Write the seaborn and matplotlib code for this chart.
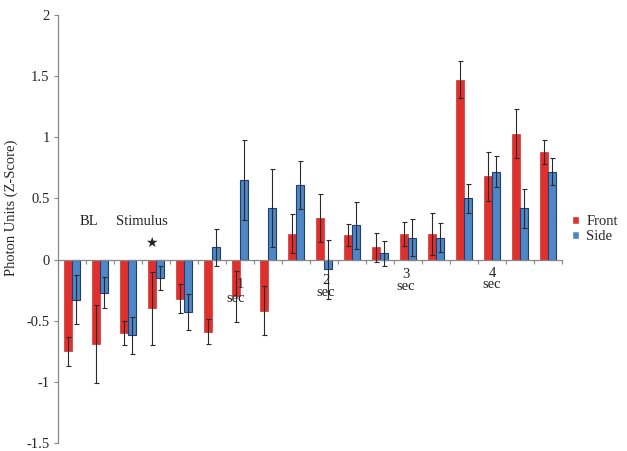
import numpy as np
import pandas as pd
import matplotlib
matplotlib.use("Agg")
import matplotlib.pyplot as plt
import seaborn as sns

# Mean photon units (z-score) per time bin
bins = [f"b{i:02d}" for i in range(1, 19)]
front = [-0.75, -0.69, -0.60, -0.40, -0.32, -0.59, -0.30, -0.42, 0.21,
         0.34, 0.20, 0.10, 0.21, 0.21, 1.47, 0.68, 1.03, 0.88]
front_err = [0.12, 0.32, 0.10, 0.30, 0.12, 0.10, 0.21, 0.20, 0.16,
             0.20, 0.09, 0.12, 0.10, 0.17, 0.15, 0.20, 0.20, 0.10]
side = [-0.33, -0.27, -0.62, -0.15, -0.43, 0.10, 0.65, 0.42, 0.61,
        -0.08, 0.28, 0.05, 0.18, 0.18, 0.50, 0.72, 0.42, 0.72]
side_err = [0.20, 0.13, 0.15, 0.10, 0.15, 0.15, 0.33, 0.32, 0.20,
            0.24, 0.19, 0.10, 0.15, 0.12, 0.12, 0.13, 0.16, 0.11]

# annotations: (text, x position in bins, y value)
notes = [("BL", 0.6, 0.31), ("Stimulus", 2.5, 0.31), ("\u2605", 2.85, 0.14),
         ("1", 6.0, -0.20), ("sec", 5.86, -0.315), ("2\nsec", 9.07, -0.22),
         ("3\nsec", 11.93, -0.17), ("4\nsec", 15.0, -0.16)]

yticks = [-1.5, -1, -0.5, 0, 0.5, 1, 1.5, 2]
ytick_labels = ["-1.5", "-1", "-0.5", "0", "0.5", "1", "1.5", "2"]

df = pd.DataFrame({
    "bin": bins * 2,
    "value": front + side,
    "view": ["Front"] * len(bins) + ["Side"] * len(bins),
})

sns.set_style("ticks")
plt.rcParams["font.family"] = ["Liberation Serif", "DejaVu Serif"]

fig = plt.figure(figsize=(6.27, 4.51), dpi=100)
ax = fig.add_axes([58 / 627, 1 - 443 / 451, 504 / 627, 428 / 451])

sns.barplot(data=df, x="bin", y="value", hue="view", order=bins,
            palette={"Front": "#E0302E", "Side": "#4F86C6"},
            width=0.6, errorbar=None, saturation=1, ax=ax)

errs = [front_err, side_err]
vals = [front, side]
bar_sets = list(ax.containers)[:2]
for k, cont in enumerate(bar_sets):
    xs = []
    for bar in cont:
        if k == 1:
            bar.set_edgecolor("#1F3F70")
            bar.set_linewidth(0.8)
        else:
            bar.set_edgecolor("#C02020")
            bar.set_linewidth(0.4)
        xs.append(bar.get_x() + bar.get_width() / 2)
    ax.errorbar(xs, vals[k], yerr=errs[k], fmt="none", ecolor="#2a2a2a",
                elinewidth=0.8, capsize=1.8, capthick=0.8, zorder=5)

for txt, x, y in notes:
    if txt == "\u2605":
        ax.text(x, y, txt, ha="center", va="center", fontsize=10,
                color="#222222", zorder=6, family=["DejaVu Sans"])
    else:
        ax.text(x, y, txt, ha="center", va="center", fontsize=10.5,
                linespacing=0.85, color="#222222", zorder=6)

ax.set_xlim(-0.5, len(bins) - 0.5)
ax.set_ylim(-1.5, 2)
ax.set_yticks(yticks)
ax.set_yticklabels(ytick_labels, fontsize=10.5)
ax.set_xticks(np.arange(-0.5, len(bins), 1))
ax.set_xticklabels([])
ax.set_xlabel("")
ax.set_ylabel("Photon Units (Z-Score)", fontsize=10.5)
ax.yaxis.set_label_coords(-0.079, 0.55)

ax.spines["top"].set_visible(False)
ax.spines["right"].set_visible(False)
ax.spines["bottom"].set_position(("data", 0))
for s in ["left", "bottom"]:
    ax.spines[s].set_color("#888888")
    ax.spines[s].set_linewidth(0.9)
ax.tick_params(axis="x", direction="out", length=3, color="#888888")
ax.tick_params(axis="y", direction="out", length=3, color="#888888", pad=3)

handles, labels = ax.get_legend_handles_labels()
ax.legend(handles, labels, loc="center left", bbox_to_anchor=(1.005, 0.5),
          frameon=False, fontsize=10.5, handlelength=0.5, handleheight=0.5,
          handletextpad=0.5, labelspacing=0.15, borderpad=0)

fig.savefig("out.png", dpi=100)
